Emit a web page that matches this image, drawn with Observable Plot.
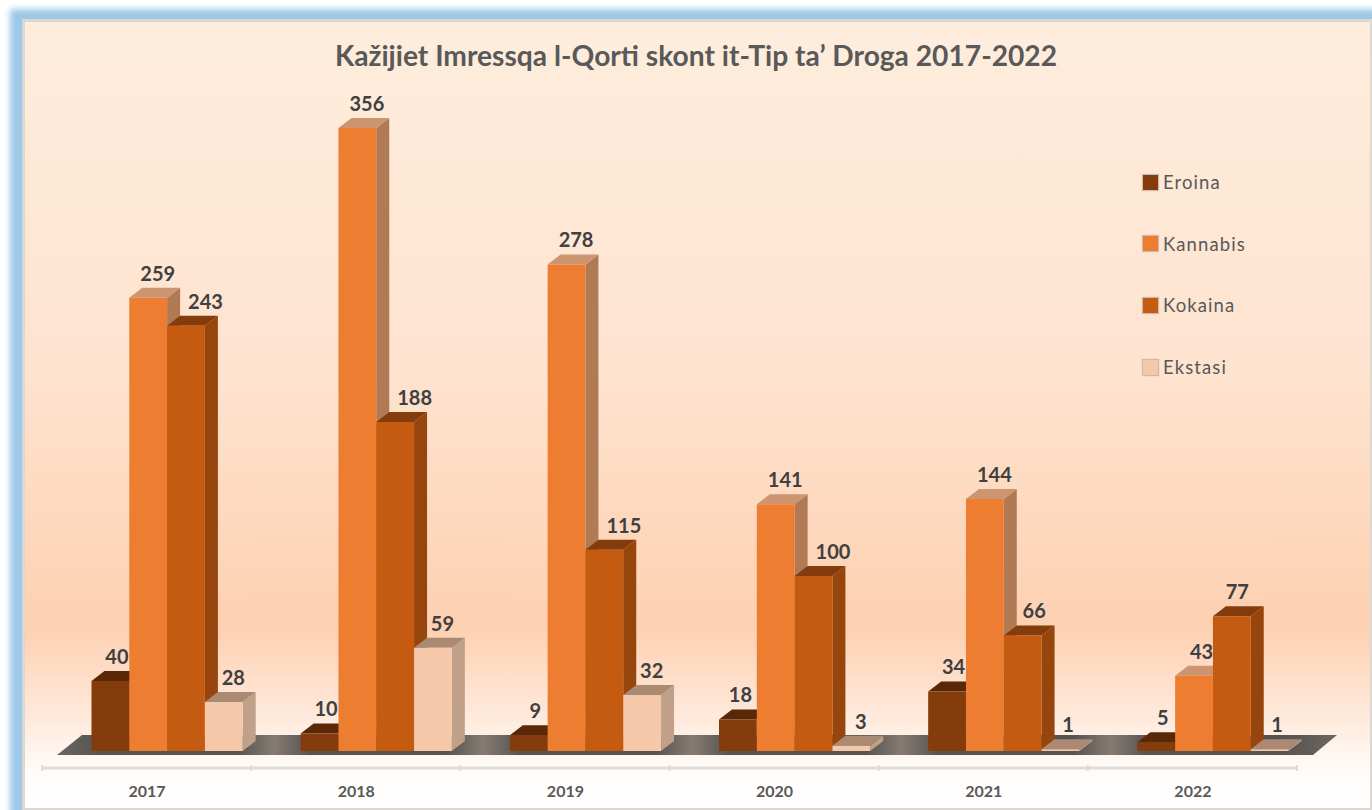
<!DOCTYPE html>
<html><head><meta charset="utf-8">
<script src="https://cdn.jsdelivr.net/npm/d3@7"></script>
<script src="https://cdn.jsdelivr.net/npm/@observablehq/plot@0.6"></script>
<style>
html,body{margin:0;padding:0;background:#fff;overflow:hidden}
#frame{position:relative;width:1372px;height:810px;overflow:hidden;font-family:Lato,sans-serif}
#panel{position:absolute;left:22px;top:19px;width:1345px;height:786px;border:3px solid #dbd7d3;
 background:linear-gradient(to bottom,#feeddd 0%,#fee3cf 45%,#fdd0b1 77%,#fee6d6 87%,#fffdfb 96%,#fff 100%);
 box-shadow:-2px 0 6px 10px #9dc8e8}
#title{position:absolute;left:0;top:38px;width:1392px;text-align:center;font-weight:700;font-size:28.2px;line-height:34px;color:#595959}
#chart{position:absolute;left:0;top:80px}
#chart svg{background:transparent;display:block}
#legend{position:absolute;left:1143px;top:173px}
.key{position:absolute;left:0;display:flex;align-items:center;gap:5px;font-size:18.5px;letter-spacing:1.1px;line-height:18px;color:#595959;white-space:nowrap;height:18px}
.key i{display:block;width:15px;height:15px;box-shadow:0 0 1px 1px rgba(120,110,100,.35)}
</style></head><body>
<div id="frame">
  <div id="panel"></div>
  <div id="title"></div>
  <div id="chart"></div>
  <div id="legend"></div>
</div>
<script>
const titleText = "Kažijiet Imressqa l-Qorti skont it-Tip ta’ Droga 2017-2022";
const years = ["2017","2018","2019","2020","2021","2022"];
const series = ["Eroina","Kannabis","Kokaina","Ekstasi"];
const eroina   = [40,10,9,18,34,5];
const kannabis = [259,356,278,141,144,43];
const kokaina  = [243,188,115,100,66,77];
const ekstasi  = [28,59,32,3,1,1];
const valuesBySeries = [eroina,kannabis,kokaina,ekstasi];

const frontColors = ["#843c0c","#ed7d31","#c55a11","#f5c8aa"];
const topColors   = ["#5a2807","#cc9570","#843c0c","#ab8a73"];
const sideColors  = ["#5f2c09","#b07a55","#96460c","#c0a088"];
const depthX = 13, depthY = 10;

const rows = years.flatMap((year,yi)=>series.map((s,si)=>({year,series:s,value:valuesBySeries[si][yi]})));

const svgNS = "http://www.w3.org/2000/svg";
function poly(parent, pts, fill){
  const p = document.createElementNS(svgNS,"polygon");
  p.setAttribute("points", pts.map(q=>q.join(",")).join(" "));
  p.setAttribute("fill", fill);
  parent.appendChild(p);
}

// 3D faces are drawn from the same scales as the bars
function bar3d(index, scales, values, dims, ctx, next){
  const g = next(index, scales, values, dims, ctx);
  const rects = Array.from(g.querySelectorAll("rect"));
  const w = scales.x.bandwidth();
  index.forEach((i,k)=>{
    const d = rows[i], si = series.indexOf(d.series);
    const x0 = scales.x(d.series), x1 = x0+w, yt = scales.y(d.value), yb = scales.y(0);
    const holder = document.createElementNS(svgNS,"g");
    poly(holder,[[x1,yt],[x1+depthX,yt-depthY],[x1+depthX,yb-depthY],[x1,yb]],sideColors[si]);
    poly(holder,[[x0,yt],[x0+depthX,yt-depthY],[x1+depthX,yt-depthY],[x1,yt]],topColors[si]);
    rects[k].parentNode.insertBefore(holder,rects[k]);
  });
  return g;
}

// floor plate and axis rail, positioned from the facet and value scales.
// Function marks are called once per facet; only the first facet (no offset) draws.
let floorDrawn = false;
function floor(index, {fx,y}){
  if(floorDrawn) return null;
  floorDrawn = true;
  const left = fx(years[0]), pitch = fx(years[1])-fx(years[0]), right = fx(years[5])+pitch;
  const y0 = y(0);
  const g = document.createElementNS(svgNS,"g");
  const id = "floorGrad";
  const defs = document.createElementNS(svgNS,"defs");
  const lg = document.createElementNS(svgNS,"linearGradient");
  lg.setAttribute("id",id); lg.setAttribute("gradientUnits","userSpaceOnUse");
  lg.setAttribute("x1",left+15); lg.setAttribute("x2",right+40);
  lg.setAttribute("y1",0); lg.setAttribute("y2",0);
  const span = right+40-(left+15);
  const add = (x,c)=>{const s=document.createElementNS(svgNS,"stop");
    s.setAttribute("offset",Math.max(0,Math.min(1,(x-(left+15))/span)));s.setAttribute("stop-color",c);lg.appendChild(s);};
  add(left+15,"#6a6662");
  years.forEach((yr,i)=>{
    const b = fx(yr);
    add(b+60,"#565350");
    add(b+195,"#565350");
    if(i<5) add(b+232,"#857b73");
  });
  add(right+40,"#6a6662");
  defs.appendChild(lg); g.appendChild(defs);
  poly(g,[[left+15,y0+4],[right+16,y0+4],[right+40,y0-16],[left+40,y0-16]],`url(#${id})`);
  const rail = document.createElementNS(svgNS,"rect");
  rail.setAttribute("x",left); rail.setAttribute("y",y0+15.5);
  rail.setAttribute("width",right-left); rail.setAttribute("height",3);
  rail.setAttribute("fill","#dedcda");
  g.appendChild(rail);
  [...years.map(yr=>fx(yr)),right].forEach(t=>{
    const r = document.createElementNS(svgNS,"rect");
    r.setAttribute("x",t-1); r.setAttribute("y",y0+14);
    r.setAttribute("width",2); r.setAttribute("height",6);
    r.setAttribute("fill","#dedcda");
    g.appendChild(r);
  });
  return g;
}

// label shift follows the visible gap to the right of each bar
function labelShift(d){
  if(d.series==="Eroina") return d.value===18 ? 2 : 6;
  if(d.series==="Kannabis") return d.value===43 ? 7 : 9;
  if(d.series==="Kokaina") return d.value>=100 ? 19 : (d.value===66 ? 11 : 5);
  return d.value===1 ? 7 : 9;
}
const labelGroups = Array.from(d3.group(rows,labelShift),([dx,items])=>
  Plot.text(items,{fx:"year",x:"series",y:"value",text:d=>String(d.value),dx,dy:-24,
    fontWeight:700,fontSize:20,fill:"#404040",fontFamily:"Lato, sans-serif"}));

const plot = Plot.plot({
  width:1372,height:730,
  marginLeft:42,marginRight:75,marginTop:48,marginBottom:59,
  style:{background:"transparent",fontFamily:"Lato, sans-serif"},
  fx:{domain:years,padding:0,round:false,label:null,axis:null},
  x:{type:"band",domain:series,range:[91.5,242.7],padding:0,round:false,axis:null,label:null},
  y:{domain:[0,356],axis:null},
  color:{domain:series,range:frontColors},
  marks:[
    floor,
    Plot.barY(rows,{fx:"year",x:"series",y:"value",fill:"series",inset:0,render:bar3d}),
    ...labelGroups,
    Plot.axisFx({anchor:"bottom",label:null,tickSize:0,tickPadding:34,fontSize:16,fontWeight:700,fill:"#595959"})
  ]
});
document.getElementById("chart").appendChild(plot);
document.getElementById("title").textContent = titleText;

const legend = d3.select("#legend");
series.forEach((s,i)=>{
  const row = legend.append("div").attr("class","key").style("top",`${i*61.7}px`);
  row.append("i").style("background",frontColors[i]);
  row.append("span").text(s);
});
</script>
</body></html>
